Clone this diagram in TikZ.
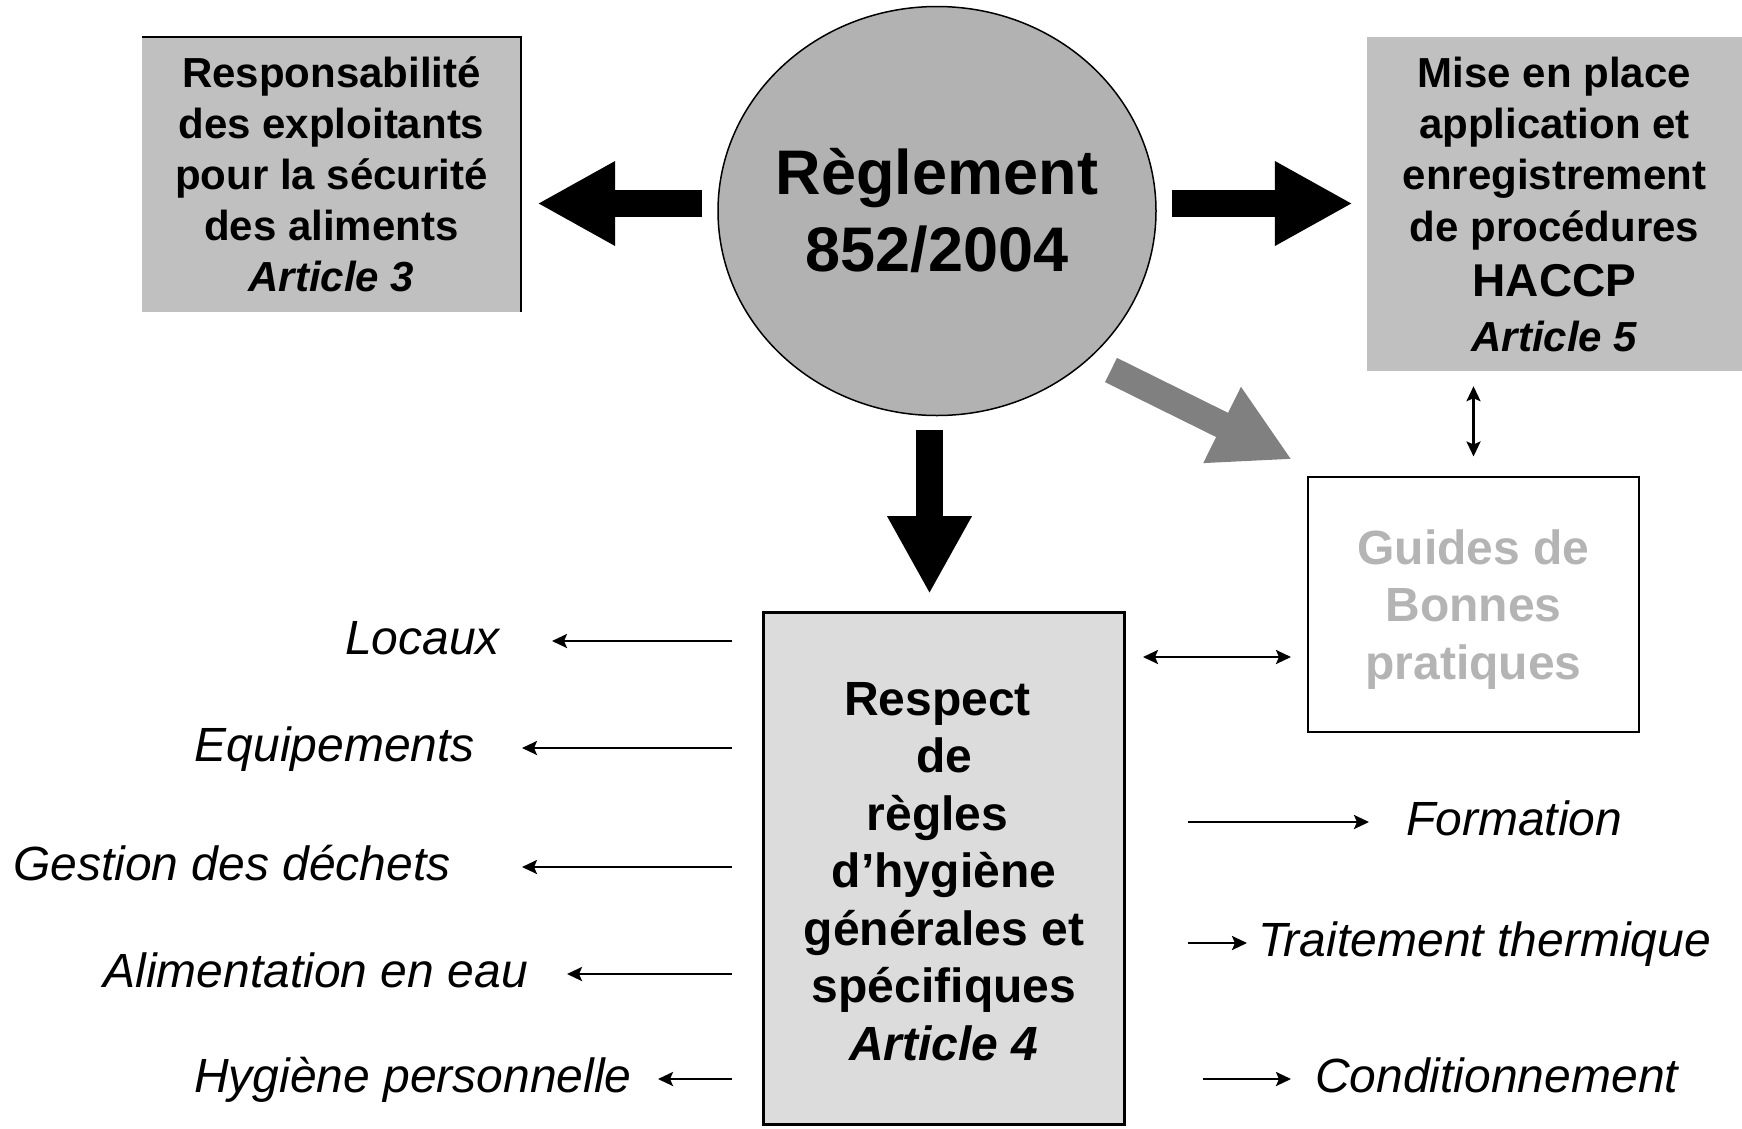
\documentclass[tikz,border=0pt]{standalone}
\usepackage{fontspec}
\setmainfont{Liberation Sans}
\usetikzlibrary{arrows.meta,shapes.geometric,calc}
\definecolor{boxgray}{HTML}{C0C0C0}
\definecolor{ellgray}{HTML}{B2B2B2}
\definecolor{lightbox}{HTML}{DCDCDC}
\definecolor{arrowgray}{HTML}{808080}
\definecolor{guidetext}{HTML}{B4B4B4}
\begin{document}
\begin{tikzpicture}[x=1pt,y=-1pt,
  titlebox/.style={fill=boxgray, inner sep=0pt, align=center,
    font=\fontsize{42}{51}\selectfont\bfseries},
  bodytext/.style={inner sep=0pt, align=center,
    font=\fontsize{48}{57.5}\selectfont\bfseries},
  lab/.style={inner sep=0pt, text height=36pt, text depth=10pt,
    font=\fontsize{48}{58}\selectfont\itshape},
  blockarrow/.style={line width=27pt, line cap=butt,
    -{Triangle[length=78pt,width=79pt]}},
  thinarrow/.style={line width=2.5pt, -{Stealth[length=15pt,width=14pt,inset=3pt]}},
  twoway/.style={line width=2.5pt, {Stealth[length=15pt,width=14pt,inset=3pt]}-{Stealth[length=15pt,width=14pt,inset=3pt]}}
]
\useasboundingbox (0,0) rectangle (1742,1128);

% central regulation
\node[ellipse, draw, line width=1.5pt, fill=ellgray, minimum width=438pt,
  minimum height=409pt, inner xsep=-40pt, inner ysep=0pt, align=center,
  font=\fontsize{63}{77}\selectfont\bfseries] (reg) at (937,211)
  {Règlement\\852/2004};

% article 3
\node[titlebox, minimum width=379pt, minimum height=275pt] (resp) at (331.5,174.5)
  {Responsabilité\\des exploitants\\pour la sécurité\\des aliments\\\textit{Article 3}};
\draw[line width=2pt] (resp.north west) -- (resp.north east) -- (resp.south east);

% article 5
\node[titlebox, minimum width=375pt, minimum height=334pt] (haccp) at (1554.5,204)
  {Mise en place\\application et\\enregistrement\\[1pt]de procédures\\[4pt]
   {\fontsize{46}{55}\selectfont HACCP}\\[4pt]\textit{Article 5}};

% article 4
\node[draw, line width=3pt, fill=lightbox, minimum width=361pt, minimum height=512pt,
  inner sep=0pt] (rules) at (944,868.5) {};
\node[bodytext] (rulestext) at ($(rules.center)+(0,3)$)
  {Respect\kern13pt\\de\\règles\kern13pt\\d’hygiène\\générales et\\spécifiques\\\textit{Article 4}};

% good practice guides
\node[draw, line width=2pt, minimum width=331pt, minimum height=255pt, inner sep=0pt]
  (guides) at (1473.5,604) {};
\node[bodytext, text=guidetext] (guidestext) at ($(guides.center)+(0,5.5)$)
  {Guides de\\Bonnes\\pratiques};

% block arrows from the regulation
\draw[blockarrow] ($(reg.west)+(-15,-7.5)$) -- ($(resp.east |- reg.west)+(16,-7.5)$);
\draw[blockarrow] ($(reg.east)+(15,-7.5)$) -- ($(haccp.west |- reg.east)+(-14,-7.5)$);
\draw[blockarrow] ($(reg.south)+(-7.5,14)$) -- ($(rules.north -| reg.south)+(-7.5,-17)$);
\draw[blockarrow, arrowgray] ($(reg.center)+(174,159)$) -- ($(guides.north west)+(-15,-16)$);

% links with the guides
\draw[twoway] ($(haccp.south -| guides.north)+(0,15)$) -- ($(guides.north)+(0,-19)$);
\draw[twoway] ($(rules.east |- guides.center)+(17,53)$) -- ($(guides.west)+(-16,53)$);

% general hygiene topics
\node[lab, anchor=east] (locaux) at (500,641) {Locaux};
\node[lab, anchor=east] (equip) at (475,748) {Equipements};
\node[lab, anchor=east] (dechets) at (451,867) {Gestion des déchets};
\node[lab, anchor=east] (eau) at (528,974) {Alimentation en eau};
\node[lab, anchor=east] (perso) at (632,1079) {Hygiène personnelle};

\draw[thinarrow] ($(rules.west |- locaux.east)+(-30,0)$) -- ($(locaux.east)+(52,0)$);
\draw[thinarrow] ($(rules.west |- equip.east)+(-30,0)$) -- ($(equip.east)+(47,0)$);
\draw[thinarrow] ($(rules.west |- dechets.east)+(-30,0)$) -- ($(dechets.east)+(71,0)$);
\draw[thinarrow] ($(rules.west |- eau.east)+(-30,0)$) -- ($(eau.east)+(39,0)$);
\draw[thinarrow] ($(rules.west |- perso.east)+(-30,0)$) -- ($(perso.east)+(26,0)$);

% specific hygiene topics
\node[lab, anchor=west] (formation) at (1406,822) {Formation};
\node[lab, anchor=west] (thermique) at (1258,943) {Traitement thermique};
\node[lab, anchor=west] (condit) at (1315,1079) {Conditionnement};

\draw[thinarrow] ($(rules.east |- formation.west)+(62,0)$) -- ($(formation.west)+(-37,0)$);
\draw[thinarrow] ($(rules.east |- thermique.west)+(62,0)$) -- ($(thermique.west)+(-11,0)$);
\draw[thinarrow] ($(rules.east |- condit.west)+(77,0)$) -- ($(condit.west)+(-24,0)$);
\end{tikzpicture}
\end{document}
